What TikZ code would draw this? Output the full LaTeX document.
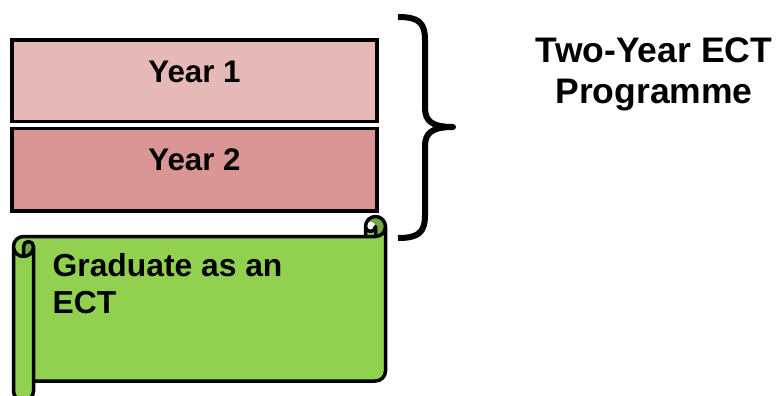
\documentclass[tikz,border=0pt]{standalone}
\usepackage{fontspec}
\setmainfont{Liberation Sans}
\definecolor{yearone}{HTML}{E6B9B8}
\definecolor{yeartwo}{HTML}{D99694}
\definecolor{scrollgreen}{HTML}{92D050}
\definecolor{scrolldark}{HTML}{75A740}
\begin{document}
\begin{tikzpicture}[x=1pt,y=-1pt,
  yearbox/.style={draw=black,line width=3.5pt,line join=miter},
  label/.style={inner sep=0pt,font=\bfseries\fontsize{31.3}{37}\selectfont},
  scrollline/.style={draw=black,line width=3.5pt,line join=round}]
\useasboundingbox (0,0) rectangle (784,396);

% the two programme years
\filldraw[yearbox,fill=yearone] (12,40) rectangle (377,121.3);
\filldraw[yearbox,fill=yeartwo] (12,128.3) rectangle (377,211);
\node[label,anchor=base] (y1) at (194.5,82) {Year 1};
\node[label,anchor=base] (y2) at (194.5,170) {Year 2};

% curly brace grouping both years
\draw[line width=6pt,line cap=butt,line join=round]
  (398,17) .. controls (418,17) and (425,22) .. (425,40)
  -- (425,108) .. controls (425,121) and (432,127) .. (453,127)
  .. controls (432,127) and (425,133) .. (425,146)
  -- (425,215) .. controls (425,233) and (418,238) .. (398,238);

% title; the base anchor sits on the last line
\node[inner sep=0pt,align=center,anchor=base,
  font=\bfseries\fontsize{35.5}{41}\selectfont] (title) at (654,103)
  {Two-Year ECT\\Programme};

% the scroll: body and rolls
\fill[scrollgreen]
  (385.5,226.5) arc (0:90:10) -- (375.5,226.5) arc (0:180:5)
  -- (365.5,236.5) -- (23.5,236.5) arc (270:180:10)
  -- (13.5,391) arc (180:0:10) -- (33.5,381) -- (375.5,381)
  arc (90:0:10) -- cycle;
\fill[scrolldark]
  (23.5,256.5) arc (90:0:10) arc (0:-180:5) -- cycle
  (375.5,236.5) arc (90:-180:10) arc (180:360:5) -- cycle;
\draw[scrollline]
  (13.5,246.5) arc (180:270:10) -- (365.5,236.5) -- (365.5,226.5)
  arc (180:360:10) -- (385.5,371) arc (0:90:10) -- (33.5,381)
  -- (33.5,391) arc (0:180:10) -- cycle
  (365.5,236.5) -- (375.5,236.5) arc (90:0:10)
  (375.5,236.5) -- (375.5,226.5) arc (0:180:5)
  (23.5,256.5) -- (23.5,246.5) arc (180:360:5) arc (0:180:10)
  (33.5,246.5) -- (33.5,381);

\node[inner sep=0pt,align=left,anchor=base west,
  font=\bfseries\fontsize{31.8}{37.5}\selectfont] (grad) at (52.5,313.5)
  {Graduate as an\\ECT};
\end{tikzpicture}
\end{document}
